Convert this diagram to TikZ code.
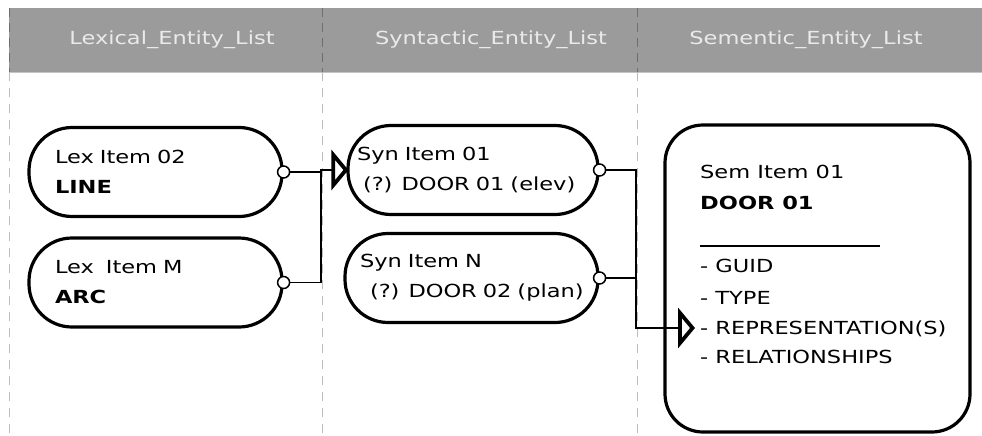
\documentclass[tikz,border=0pt]{standalone}
\usepackage{fontspec}
\setmainfont{DejaVu Sans}[FakeStretch=1.25]
\usetikzlibrary{arrows.meta}

\definecolor{bandgray}{HTML}{9B9B9B}
\definecolor{bandedge}{HTML}{C4C4C4}
\definecolor{headtext}{HTML}{EAEAEA}
\definecolor{dashdark}{HTML}{6E6E6E}
\definecolor{dashlight}{HTML}{BDBDBD}

\begin{document}
\begin{tikzpicture}[x=1pt,y=-1pt,
  every node/.style={font=\fontsize{18}{30}\selectfont},
  head/.style={text=headtext, inner sep=0pt},
  pill/.style={draw=black, line width=3.2pt, rounded corners=43pt,
    minimum height=89pt, align=left},
  lexbox/.style={pill, inner xsep=26pt, text width=201pt},
  port/.style={circle, draw=black, fill=white, line width=1.5pt,
    minimum size=12pt, inner sep=0pt},
  conn/.style={draw=black, line width=1.6pt},
  arr/.style={conn, -{Triangle[open, length=17pt, width=40pt, line width=3.8pt]}},
  sembox/.style={draw=black, line width=3.2pt, rounded corners=38pt,
    minimum width=305pt, minimum height=307pt},
  lanedark/.style={draw=dashdark, line width=0.9pt, dash pattern=on 9pt off 6pt},
  lanelight/.style={draw=dashlight, line width=0.9pt, dash pattern=on 9pt off 7pt}
]
\useasboundingbox (0,0) rectangle (982,436);

% header band
\fill[bandgray] (9,8) rectangle (982,72);
\draw[bandedge, line width=1pt] (9,72) -- (982,72);

% lane separators
\foreach \x in {9,322,637} {
  \draw[lanedark] (\x,8) -- (\x,72);
  \draw[lanelight] (\x,72) -- (\x,436);
}

% lane titles
\node[head] (hlex) at (172,40) {Lexical\_Entity\_List};
\node[head] (hsyn) at (491,40) {Syntactic\_Entity\_List};
\node[head] (hsem) at (806,40) {Sementic\_Entity\_List};

% lexical items
\node[lexbox] (lex2) at (155.5,172) {Lex Item 02\\\textbf{LINE}};
\node[lexbox] (lexM) at (155.5,282.5) {Lex\ \ Item M\\\textbf{ARC}};

% syntactic items
\node[pill, inner xsep=9pt, text width=232pt] (syn1) at (473,170)
  {Syn Item 01\\\hspace*{6pt}\mbox{(?) DOOR 01 (elev)}};
\node[pill, inner xsep=15pt, text width=223pt] (synN) at (471.5,278)
  {Syn Item N\\\hspace*{10pt}\mbox{(?) DOOR 02 (plan)}};

% semantic item
\node[sembox] (sem) at (817.5,278.5) {};
\node[anchor=north west, inner sep=0pt, align=left] (semtext) at (700,164.5)
  {Sem Item 01\\[1pt]
   \textbf{DOOR 01}\\[7.5pt]
   \rule{180pt}{1.2pt}\\[-4.5pt]
   - GUID\\[2pt]
   - TYPE\\
   - REPRESENTATION(S)\\[-1pt]
   - RELATIONSHIPS};

% output ports
\node[port] (p2) at (lex2.east) {};
\node[port] (pM) at (lexM.east) {};
\node[port] (ps1) at (syn1.east) {};
\node[port] (psN) at (synN.east) {};

% junctions and the semantic entry point
\coordinate (jl) at (321,172);
\coordinate (jr) at (636,170);
\coordinate (semin) at (695,328);

% connectors
\draw[arr] (p2.east) -- (jl) |- ([xshift=2pt]syn1.west);
\draw[conn] (pM.east) -| (jl);
\draw[arr] (ps1.east) -- (jr) |- (semin);
\draw[conn] (psN.east) -- (psN.east -| jr);
\end{tikzpicture}
\end{document}
